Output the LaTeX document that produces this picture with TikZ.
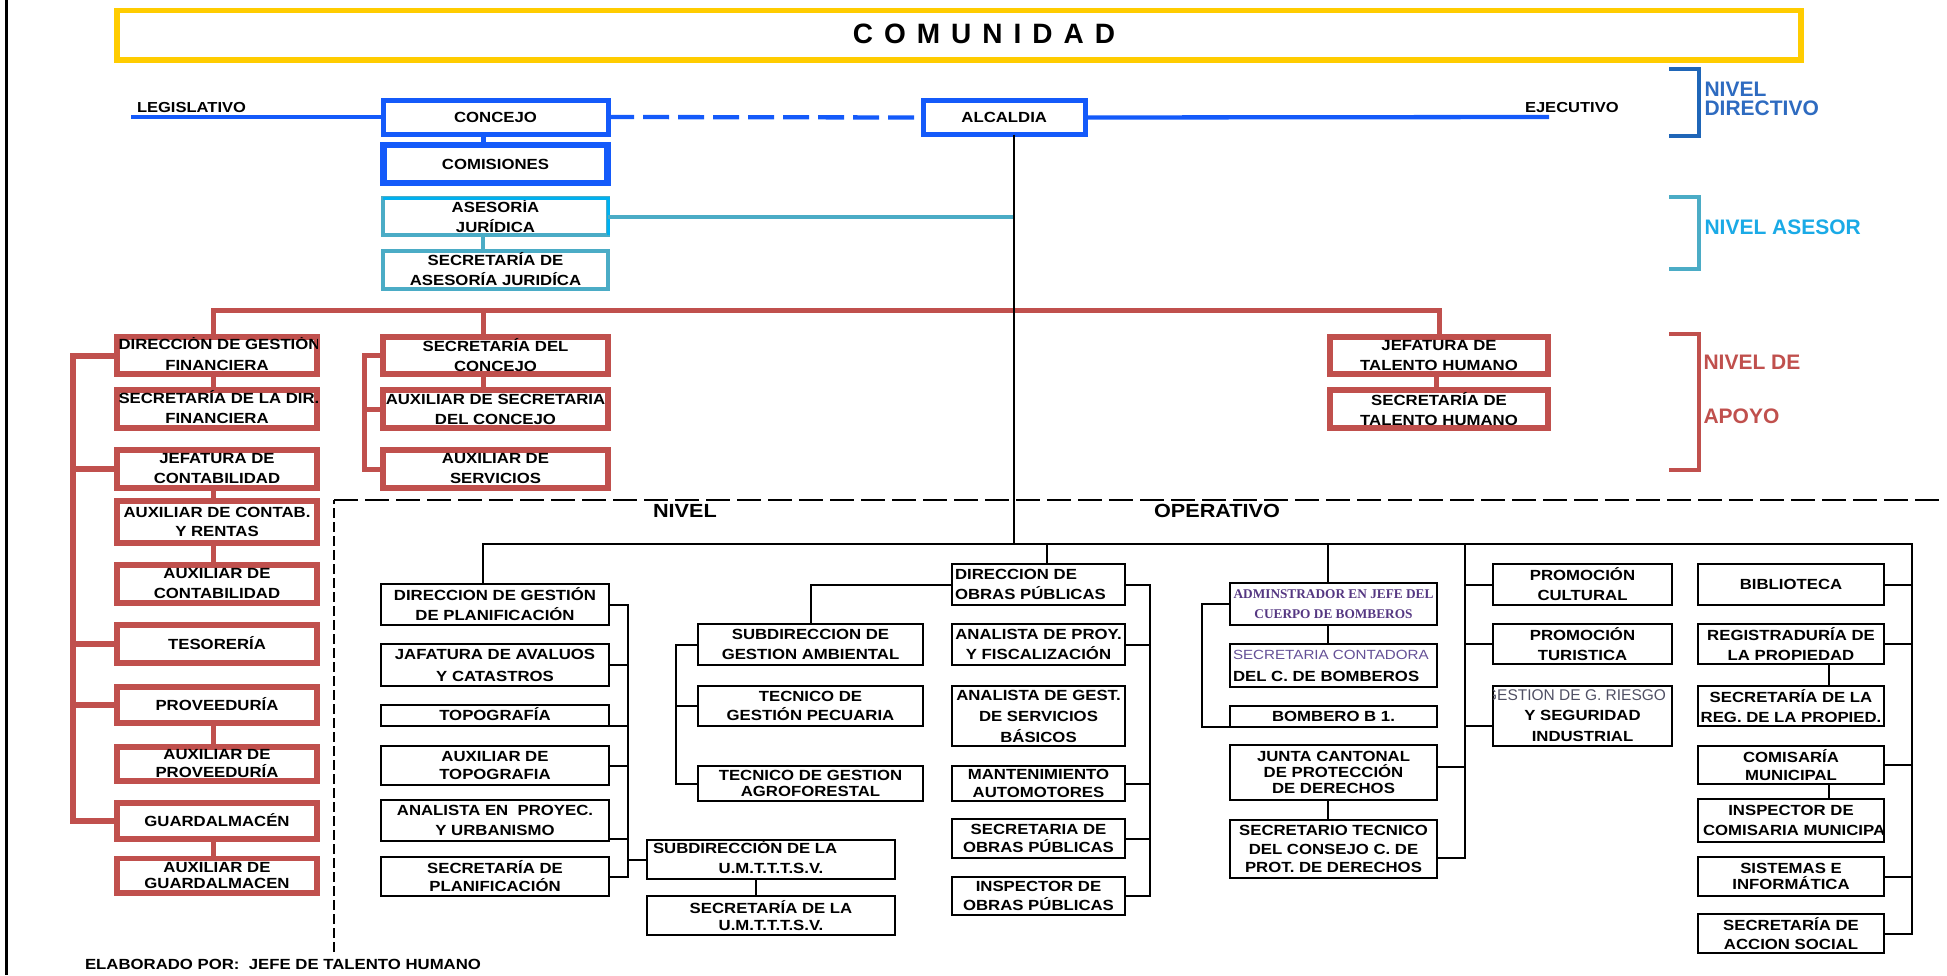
\documentclass[tikz,border=0pt]{standalone}
\usepackage{fontspec}
\setmainfont{Liberation Sans}
\newfontfamily\bxf[FakeStretch=1.14]{Liberation Sans}
\newfontfamily\serf{Liberation Serif}
\usetikzlibrary{fit}
\definecolor{yel}{RGB}{255,204,0}
\definecolor{blu}{RGB}{20,90,250}
\definecolor{tea}{RGB}{75,172,198}
\definecolor{cya}{RGB}{0,176,240}
\definecolor{red1}{RGB}{192,80,77}
\definecolor{dblu}{RGB}{31,102,184}
\definecolor{tblu}{RGB}{46,107,192}
\definecolor{cyt}{RGB}{26,170,230}
\definecolor{purp}{RGB}{85,55,130}
\definecolor{purp2}{RGB}{100,80,150}
\definecolor{gry}{RGB}{80,80,100}
% box with its centred text: [text options]{box style}{fit points}{name}{text}
\newcommand\BX[5][]{\node[#2, fit={#3}] (#4) {}; \node[lbl, align=center, #1] (#4t) at (#4.center) {#5};}
\begin{document}
\begin{tikzpicture}[x=1pt,y=-1pt,
 ls/.style={font=\bxf\bfseries\fontsize{14.7}{#1}\selectfont},
 bx/.style={inner sep=0pt, outer sep=0pt, rectangle},
 rbox/.style={bx, draw=red1, line width=5.5pt},
 bbox/.style={bx, draw=blu, line width=5pt},
 tbox/.style={bx, draw=tea, line width=4pt},
 kbox/.style={bx, draw=black, line width=2pt},
 rline/.style={draw=red1, line width=5pt},
 bline/.style={draw=blu, line width=4.3pt},
 tline/.style={draw=tea, line width=4pt},
 kline/.style={draw=black, line width=2pt},
 lbl/.style={inner sep=0pt, outer sep=0pt, ls=20},
 one/.style={text height=10.5pt, text depth=0pt},
 big/.style={inner sep=0pt, outer sep=0pt, anchor=west, align=left}
]
\useasboundingbox (0,0) rectangle (1947,975);
\draw[line width=3pt] (6,0) -- (6,975);

% title
\node[draw=yel, line width=5.3pt, inner sep=0pt, fit={(117,10.7)(1801,60)}] (ybox) {};
\node[inner sep=0pt, font=\bfseries\fontsize{28}{30}\selectfont, text height=20pt, text depth=0pt] (comt) at (984,33)
 {C\kern11pt O\kern11pt M\kern11pt U\kern11pt N\kern11pt I\kern11pt D\kern11pt A\kern11pt D};

% directive
\BX[one]{bbox}{(383,100)(608,134)}{concejo}{CONCEJO}
\BX[one]{bbox, line width=6.5pt}{(383.5,145)(607.5,183)}{comis}{COMISIONES}
\BX[one]{bbox}{(923,100.5)(1085.5,134.5)}{alc}{ALCALDIA}
\BX{tbox}{(383,198)(608,235)}{ases}{ASESORÍA\\JURÍDICA}
\draw[cya, line width=3pt] (ases.north west) -- (ases.north east) -- (ases.south east);
\BX{tbox}{(383,250.5)(608,288.5)}{sases}{SECRETARÍA DE\\ASESORÍA JURIDÍCA}

\node[lbl, one, anchor=west, font=\bxf\bfseries\fontsize{14.5}{20}\selectfont] (legis) at (137,107) {LEGISLATIVO};
\node[lbl, one, anchor=west, font=\bxf\bfseries\fontsize{14.5}{20}\selectfont] (ejec) at (1525,107) {EJECUTIVO};
\coordinate (legend) at (131,117);
\coordinate (ejend) at (1549,117);
\draw[bline] (legend) -- (concejo.west);
\draw[bline, dash pattern=on 26pt off 9pt] (concejo.east) -- (alc.west);
\draw[bline] (alc.east) -- (ejend);
\draw[bline, line width=5pt] ([xshift=-12.5pt]concejo.south) -- ([xshift=-12.5pt]comis.north);
\draw[tline] ([xshift=-12.5pt]ases.south) -- ([xshift=-12.5pt]sases.north);
\coordinate (alcb) at ([xshift=10pt]alc.south);
\coordinate (busR) at (1912,544);
\draw[tline] (ases.east) -- (ases.east -| alcb);

% level labels and brackets
\draw[dblu, line width=4pt] (1669,69) -- (1699,69) -- (1699,136) -- (1669,136);
\draw[tea, line width=4pt] (1669,197) -- (1699,197) -- (1699,269) -- (1669,269);
\draw[red1, line width=4pt] (1669,334) -- (1699,334) -- (1699,470) -- (1669,470);
\node[big, text=tblu, font=\bfseries\fontsize{21}{19}\selectfont] (ndir) at (1704.5,98.7) {NIVEL\\DIRECTIVO};
\node[big, text=cyt, font=\bfseries\fontsize{21}{19}\selectfont, text height=15pt, text depth=0pt] (nase) at (1704.5,226.7) {NIVEL ASESOR};
\node[big, text=red1, font=\bfseries\fontsize{21}{54.5}\selectfont] (napo) at (1703.5,389.5) {NIVEL DE\\APOYO};

% support level: red boxes
\BX{rbox}{(117,337)(317,374)}{dgf}{\vphantom{X}\\FINANCIERA}
\BX{rbox}{(117,390)(317,428)}{sdf}{\vphantom{X}\\FINANCIERA}
\BX{rbox}{(117,450)(317,488)}{jc}{JEFATURA DE\\CONTABILIDAD}
\BX[ls=19]{rbox, line width=6.5pt}{(117,501)(317,543)}{acr}{AUXILIAR DE CONTAB.\\Y RENTAS}
\BX{rbox, line width=6.5pt}{(117,565)(317,603)}{ac}{AUXILIAR DE\\CONTABILIDAD}
\BX[one]{rbox, line width=6pt}{(117,625)(317,663)}{tes}{TESORERÍA}
\BX[one]{rbox}{(117,687)(317,723)}{prov}{PROVEEDURÍA}
\BX[ls=18]{rbox}{(117,747)(317,781)}{aprov}{AUXILIAR DE\\PROVEEDURÍA}
\BX[one]{rbox}{(117,803)(317,839)}{guard}{GUARDALMACÉN}
\BX[ls=16]{rbox}{(117,858.5)(317,893)}{aguard}{AUXILIAR DE\\GUARDALMACEN}
\begin{scope}
\clip (dgf.south west) rectangle (dgf.north east);
\node[lbl, one, anchor=west] (dgf1) at ([xshift=1.5pt,yshift=11pt]dgf.west) {DIRECCIÓN DE GESTIÓN};
\end{scope}
\begin{scope}
\clip (sdf.south west) rectangle (sdf.north east);
\node[lbl, one, anchor=west] (sdf1) at ([xshift=1.5pt,yshift=10.5pt]sdf.west) {SECRETARÍA DE LA DIR.};
\end{scope}

\BX{rbox}{(383,337)(608,374)}{sc}{SECRETARÍA DEL\\CONCEJO}
\BX{rbox}{(383,390)(608,428)}{asc}{AUXILIAR DE SECRETARIA\\DEL CONCEJO}
\BX{rbox}{(383,450)(608,488)}{aserv}{AUXILIAR DE\\SERVICIOS}
\BX{rbox}{(1330,337)(1548,374)}{jth}{JEFATURA DE\\TALENTO HUMANO}
\BX{rbox}{(1330,390)(1548,428)}{sth}{SECRETARÍA DE\\TALENTO HUMANO}

\draw[rline] ([xshift=-3.5pt]dgf.north) -- ++(0,-27) -| (jth.north);
\draw[rline] ([xshift=-12.5pt]sc.north) -- ++(0,-27);
\draw[rline] ([xshift=-3.5pt]dgf.south) -- ([xshift=-3.5pt]sdf.north);
\draw[rline] ([xshift=-3.5pt]jc.south) -- ([xshift=-3.5pt]acr.north);
\draw[rline] ([xshift=-3.5pt]acr.south) -- ([xshift=-3.5pt]ac.north);
\draw[rline] ([xshift=-3.5pt]prov.south) -- ([xshift=-3.5pt]aprov.north);
\draw[rline] ([xshift=-3.5pt]guard.south) -- ([xshift=-3.5pt]aguard.north);
\draw[rline] ([xshift=-12.5pt]sc.south) -- ([xshift=-12.5pt]asc.north);
\draw[rline] ([xshift=-3pt]jth.south) -- ([xshift=-3pt]sth.north);
\coordinate (lbx) at (73,310);
\draw[rline, line width=6pt] (dgf.west) -- (dgf.west -| lbx) |- (guard.west);
\draw[rline, line width=6pt] (jc.west) -- (jc.west -| lbx);
\draw[rline, line width=6pt] (tes.west) -- (tes.west -| lbx);
\draw[rline, line width=6pt] (prov.west) -- (prov.west -| lbx);
\coordinate (mbx) at (364,310);
\draw[rline] (sc.west) -- (sc.west -| mbx) |- (aserv.west);
\draw[rline] (asc.west) -- (asc.west -| mbx);

% operative level frame
\coordinate (dv1) at (334,952);
\coordinate (dv2) at (334,500);
\coordinate (dh2) at (1942,500);
\draw[kline, dash pattern=on 10pt off 4pt] (dv1) -- (dv2);
\draw[kline, dash pattern=on 24pt off 7pt] (dv2) -- (dh2);
\node[lbl, anchor=west, font=\bxf\bfseries\fontsize{19}{20}\selectfont, text height=13.6pt, text depth=0pt] (nop1) at (653,511) {NIVEL};
\node[lbl, anchor=west, font=\bxf\bfseries\fontsize{19}{20}\selectfont, text height=13.6pt, text depth=0pt] (nop2) at (1154,511) {OPERATIVO};

% planificacion
\BX{kbox}{(381,584)(609,625)}{dgp}{DIRECCION DE GESTIÓN\\DE PLANIFICACIÓN}
\BX[ls=22]{kbox}{(381,644)(609,686)}{jav}{JAFATURA DE AVALUOS\\Y CATASTROS}
\BX[one]{kbox}{(381,705)(609,726)}{topo}{TOPOGRAFÍA}
\BX[ls=18]{kbox}{(381,746)(609,785)}{atopo}{AUXILIAR DE\\TOPOGRAFIA}
\BX{kbox}{(381,800)(609,841)}{anpu}{ANALISTA EN\ \ PROYEC.\\Y URBANISMO}
\BX[ls=18]{kbox}{(381,857)(609,896)}{splan}{SECRETARÍA DE\\PLANIFICACIÓN}

% ambiental
\BX{kbox}{(698,624)(923,665)}{sga}{SUBDIRECCION DE\\GESTION AMBIENTAL}
\BX[ls=19]{kbox}{(698,686)(923,726)}{tgp}{TECNICO DE\\GESTIÓN PECUARIA}
\BX[ls=16.5]{kbox}{(698,766)(923,801)}{tga}{TECNICO DE GESTION\\AGROFORESTAL}

% UMTTTSV
\node[kbox, fit={(647,840)(895,879)}] (sumt) {};
\node[lbl, one, anchor=west] (sumt1) at (653,848.3) {SUBDIRECCIÓN DE LA};
\node[lbl, one] (sumt2) at (771,868.3) {U.M.T.T.T.S.V.};
\BX[ls=16.5]{kbox}{(647,896)(895,935)}{secumt}{SECRETARÍA DE LA\\U.M.T.T.T.S.V.}

% obras
\node[kbox, fit={(952,564)(1125,605)}] (dop) {};
\node[lbl, anchor=west, align=left] (dopt) at (955,584.3) {DIRECCION DE\\OBRAS PÚBLICAS};
\BX{kbox}{(952,624)(1125,665)}{apf}{ANALISTA DE PROY.\\Y FISCALIZACIÓN}
\BX[ls=21]{kbox}{(952,686)(1125,746)}{agsb}{ANALISTA DE GEST.\\DE SERVICIOS\\BÁSICOS}
\BX[ls=17.5]{kbox}{(952,766)(1125,801)}{mant}{MANTENIMIENTO\\AUTOMOTORES}
\BX[ls=17.5]{kbox}{(952,819)(1125,858)}{sop}{SECRETARIA DE\\OBRAS PÚBLICAS}
\BX[ls=18.5]{kbox}{(952,877)(1125,915)}{iop}{INSPECTOR DE\\OBRAS PÚBLICAS}

% bomberos
\BX[font=\serf\bfseries\fontsize{13.3}{20}\selectfont, text=purp]{kbox}{(1230,583)(1437,625)}{adm}{ADMINSTRADOR EN JEFE DEL\\CUERPO DE BOMBEROS}
\node[kbox, fit={(1230,644)(1437,687)}] (scb) {};
\node[lbl, anchor=west, font=\bxf\fontsize{13.3}{20}\selectfont, text=purp2, text height=9.6pt, text depth=0pt] (scb1) at (1233,654.3) {SECRETARIA CONTADORA};
\node[lbl, one, anchor=west] (scb2) at (1233,676) {DEL C. DE BOMBEROS};
\BX[one]{kbox}{(1230,706)(1437,727)}{bom}{BOMBERO B 1.}
\BX[ls=16.3]{kbox}{(1230,745)(1437,800)}{jcpd}{JUNTA CANTONAL\\DE PROTECCIÓN\\DE DERECHOS}
\BX[ls=18.3]{kbox}{(1230,820)(1437,878)}{stc}{SECRETARIO TECNICO\\DEL CONSEJO C. DE\\PROT. DE DERECHOS}

% promocion
\BX{kbox}{(1493,564)(1672,605)}{pc}{PROMOCIÓN\\CULTURAL}
\BX{kbox}{(1493,624)(1672,664)}{pt}{PROMOCIÓN\\TURISTICA}
\BX[ls=21]{kbox}{(1493,686)(1672,746)}{ggr}{\vphantom{X}\\Y SEGURIDAD\\INDUSTRIAL}
\begin{scope}
\clip (ggr.south west) rectangle (ggr.north east);
\node[lbl, anchor=east, font=\fontsize{15.5}{20}\selectfont, text=gry, text height=11pt, text depth=0pt] (ggr1) at (1666,694.5) {GESTION DE G. RIESGO};
\end{scope}

% right column
\BX[one]{kbox}{(1698,564)(1884,605)}{bib}{BIBLIOTECA}
\BX{kbox}{(1698,624)(1884,664)}{reg}{REGISTRADURÍA DE\\LA PROPIEDAD}
\BX[ls=19.3]{kbox}{(1698,686)(1884,726)}{sreg}{SECRETARÍA DE LA\\REG. DE LA PROPIED.}
\BX[ls=18]{kbox}{(1698,746)(1884,784)}{comi}{COMISARÍA\\MUNICIPAL}
\BX{kbox}{(1698,799)(1884,842)}{icom}{INSPECTOR DE\\\vphantom{X}}
\begin{scope}
\clip (icom.south west) rectangle (icom.north east);
\node[lbl, one, anchor=west] (icom2) at (1703,830.5) {COMISARIA MUNICIPAL};
\end{scope}
\BX[ls=16]{kbox}{(1698,857)(1884,896)}{sis}{SISTEMAS E\\INFORMÁTICA}
\BX[ls=18.4]{kbox}{(1698,914)(1884,953)}{sas}{SECRETARÍA DE\\ACCION SOCIAL}

% black connectors
\draw[kline] (alcb) -- (alcb |- busR);
\draw[kline] ([xshift=-12pt]dgp.north) |- (busR) |- (sas.east);
\draw[kline] ([xshift=8.5pt]dop.north) -- ++(0,-20);
\draw[kline] ([xshift=-6pt]adm.north) -- ++(0,-39);
\coordinate (pbx) at (628,544);
\draw[kline] (dgp.east) -- (dgp.east -| pbx) |- (splan.east);
\draw[kline] (jav.east) -- (jav.east -| pbx);
\draw[kline] ([yshift=-10pt]topo.east) -- ++(19,0);
\draw[kline] (atopo.east) -- (atopo.east -| pbx);
\draw[kline] ([yshift=-18.5pt]anpu.east) -- ++(19,0);
\draw[kline] (sumt.west) -- (sumt.west -| pbx);
\draw[kline] ([xshift=-14.6pt]sumt.south) -- ([xshift=-14.6pt]secumt.north);
\draw[kline] (dop.west) -| (sga.north);
\coordinate (abx) at (676,544);
\draw[kline] (sga.west) -- (sga.west -| abx) |- (tga.west);
\draw[kline] (tgp.west) -- (tgp.west -| abx);
\coordinate (obx) at (1150,544);
\draw[kline] (dop.east) -- (dop.east -| obx) |- (iop.east);
\draw[kline] (apf.east) -- (apf.east -| obx);
\draw[kline] (mant.east) -- (mant.east -| obx);
\draw[kline] (sop.east) -- (sop.east -| obx);
\coordinate (bbx) at (1202,544);
\draw[kline] (adm.west) -- (adm.west -| bbx) |- ([yshift=-10pt]bom.west);
\draw[kline] ([xshift=-6pt]adm.south) -- ([xshift=-6pt]scb.north);
\draw[kline] ([xshift=-6pt]jcpd.south) -- ([xshift=-6pt]stc.north);
\coordinate (pvx) at (1465,544);
\draw[kline] (pvx) |- ([yshift=-9pt]stc.east);
\draw[kline] ([yshift=6pt]jcpd.east) -- ++(28,0);
\draw[kline] (pc.west) -- (pc.west -| pvx);
\draw[kline] (pt.west) -- (pt.west -| pvx);
\draw[kline] ([yshift=-10pt]ggr.west) -- ++(-28,0);
\draw[kline] (bib.east) -- (bib.east -| busR);
\draw[kline] (reg.east) -- (reg.east -| busR);
\draw[kline] (comi.east) -- (comi.east -| busR);
\draw[kline] (sis.east) -- (sis.east -| busR);
\draw[kline] ([xshift=38pt]reg.south) -- ([xshift=38pt]sreg.north);
\draw[kline] ([xshift=38pt]comi.south) -- ([xshift=38pt]icom.north);

\node[lbl, one, anchor=west] (elab) at (85,964) {ELABORADO POR:\ \ JEFE DE TALENTO HUMANO};
\end{tikzpicture}
\end{document}
